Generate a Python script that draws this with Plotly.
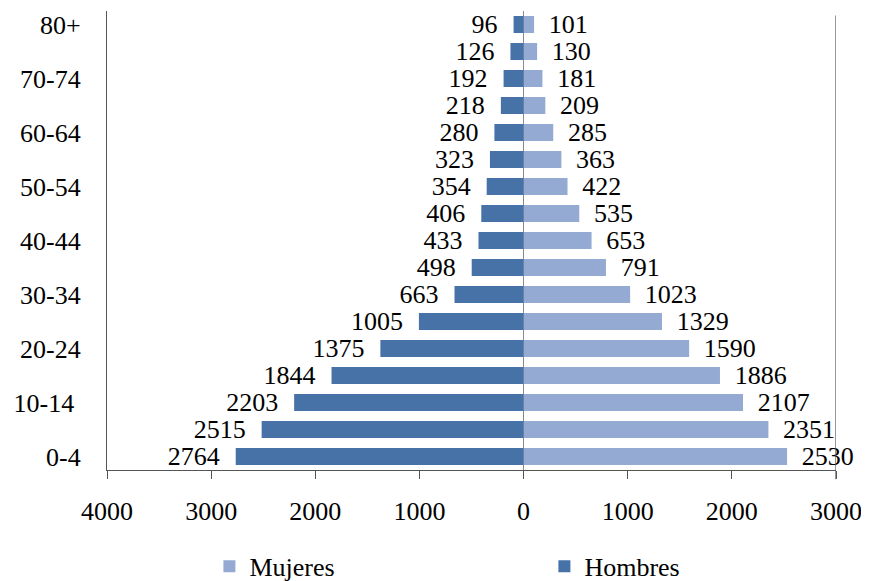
import plotly.graph_objects as go

age_groups = ["0-4", "5-9", "10-14", "15-19", "20-24", "25-29", "30-34", "35-39",
              "40-44", "45-49", "50-54", "55-59", "60-64", "65-69", "70-74", "75-79", "80+"]
hombres = [2764, 2515, 2203, 1844, 1375, 1005, 663, 498, 433, 406, 354, 323, 280, 218, 192, 126, 96]
mujeres = [2530, 2351, 2107, 1886, 1590, 1329, 1023, 791, 653, 535, 422, 363, 285, 209, 181, 130, 101]
shown_ticks = ["0-4", "10-14", "20-24", "30-34", "40-44", "50-54", "60-64", "70-74", "80+"]
shown_ticktext = ["0-4", "10-14\u00a0", "20-24", "30-34", "40-44", "50-54", "60-64", "70-74", "80+"]
x_tickvals = [-4000, -3000, -2000, -1000, 0, 1000, 2000, 3000]
x_ticktext = ["4000", "3000", "2000", "1000", "0", "1000", "2000", "3000"]

FONT = "Liberation Serif"
FS = 26
NB = "\u00a0"

fig = go.Figure()
fig.add_trace(go.Bar(
    name="Mujeres", y=age_groups, x=mujeres, orientation="h",
    marker=dict(color="#94AAD3", line=dict(width=0)),
    text=[NB + "\u2009" + str(v) for v in mujeres], textposition="outside",
    constraintext="none",
    textfont=dict(family=FONT, size=FS, color="black"), cliponaxis=False,
))
fig.add_trace(go.Bar(
    name="Hombres", y=age_groups, x=[-v for v in hombres], orientation="h",
    marker=dict(color="#4672A8", line=dict(width=0)),
    text=[str(v) + NB * 2 for v in hombres], textposition="outside",
    constraintext="none",
    textfont=dict(family=FONT, size=FS, color="black"), cliponaxis=False,
))

fig.add_shape(type="line", xref="x", yref="paper", x0=3000, x1=3000, y0=-0.02, y1=0.99,
              line=dict(color="#555555", width=1.2))

fig.update_layout(
    width=861, height=573,
    margin=dict(l=99, r=33, t=3, b=111, autoexpand=False),
    barmode="overlay", bargap=0.37,
    plot_bgcolor="white", paper_bgcolor="white",
    font=dict(family=FONT, size=FS, color="black"),
    showlegend=True,
    legend=dict(orientation="h", x=0.6, xanchor="center", y=-0.21, yanchor="middle",
                entrywidth=290, entrywidthmode="pixels", traceorder="normal",
                font=dict(family=FONT, size=FS, color="black"), itemwidth=30),
    xaxis=dict(range=[-4000, 3000], tickvals=x_tickvals, ticktext=x_ticktext,
               showgrid=False, zeroline=True, zerolinecolor="#8a8a8a", zerolinewidth=1,
               showline=True, linecolor="#555555", linewidth=1.2,
               ticks="outside", ticklen=8, tickcolor="#555555", automargin=False,
               ticklabeloverflow="allow",
               ticklabelstandoff=10, tickfont=dict(family=FONT, size=FS)),
    yaxis=dict(type="category", categoryorder="array", categoryarray=age_groups,
               tickvals=shown_ticks, ticktext=shown_ticktext, automargin=False,
               showgrid=False, showline=True, linecolor="#555555", linewidth=1.2,
               ticks="", ticklabelstandoff=20, tickfont=dict(family=FONT, size=FS)),
)

fig.write_html("out.html")
